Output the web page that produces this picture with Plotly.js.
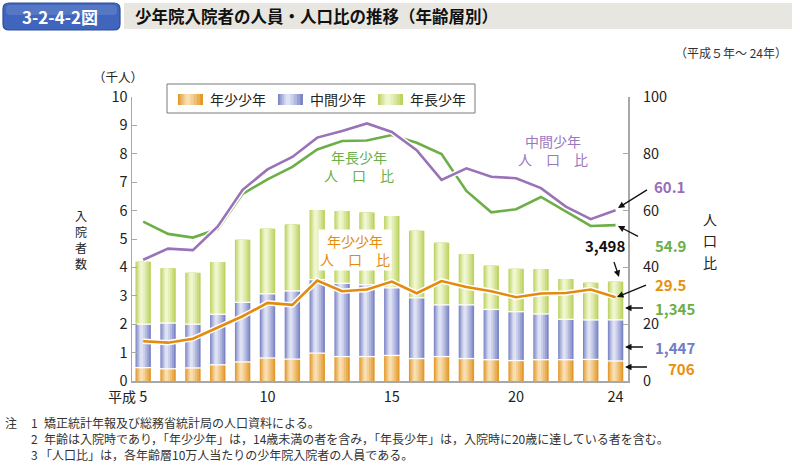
<!DOCTYPE html>
<html>
<head>
<meta charset="utf-8">
<script src="https://cdn.plot.ly/plotly-3.0.1.min.js"></script>
<style>
html,body{margin:0;padding:0;background:#fff;}
#chart{width:792px;height:463px;}
</style>
</head>
<body>
<div id="chart"></div>
<script>
// ---- data ----
const years = [5,6,7,8,9,10,11,12,13,14,15,16,17,18,19,20,21,22,23,24];
const youngCount  = [0.47,0.43,0.46,0.57,0.67,0.81,0.77,0.98,0.86,0.86,0.90,0.79,0.86,0.79,0.75,0.72,0.75,0.75,0.76,0.706];
const middleCount = [1.53,1.61,1.54,1.78,2.10,2.26,2.40,2.59,2.58,2.53,2.38,2.14,1.82,1.89,1.77,1.72,1.61,1.42,1.39,1.447];
const olderCount  = [2.20,1.93,1.81,1.84,2.20,2.29,2.34,2.45,2.55,2.54,2.53,2.36,2.19,1.79,1.54,1.51,1.58,1.42,1.31,1.345];
const youngRatio  = [14.0,13.5,14.9,18.9,22.8,27.5,26.8,35.4,31.6,32.2,35.0,30.9,35.2,33.1,31.6,29.5,30.8,31.0,32.2,29.5];
const middleRatio = [42.7,46.6,46.1,54.4,67.3,74.5,78.9,85.7,88.0,90.7,87.7,81.3,70.8,74.9,71.9,71.4,67.9,61.4,57.0,60.1];
const olderRatio  = [56.1,51.8,50.5,53.5,65.9,71.0,75.4,81.5,84.5,84.7,86.6,83.9,79.9,66.9,59.4,60.5,64.8,59.8,54.6,54.9];
const seriesNames = ['年少少年','中間少年','年長少年'];
const xTickVals = [5,10,15,20,24];
const xTickText = ['5','10','15','20','24'];
const totalLabel = '3,498';
const notes = [
  '矯正統計年報及び総務省統計局の人口資料による。',
  '年齢は入院時であり，「年少少年」は，14歳未満の者を含み，「年長少年」は，入院時に20歳に達している者を含む。',
  '「人口比」は，各年齢層10万人当たりの少年院入院者の人員である。'
];

// ---- layout helpers (pixel -> paper) ----
const PL=132, PR=628, PT=97, PB=381;
const px = x => (x-PL)/(PR-PL);
const py = y => (PB-y)/(PB-PT);
const FONT = '"Noto Sans CJK JP", "Noto Sans", sans-serif';

const L_Y='#E38B0E', L_M='#9A72B8', L_O='#6CAF47';
// bar gradient palettes: [edge, light]
const PAL = [
  ['#E3982A','#F9E2B8'],
  ['#7C86C6','#E4E7F6'],
  ['#BCD362','#F3F8D6'],
];

function hex(c){return [1,3,5].map(i=>parseInt(c.substr(i,2),16));}
function mix(a,b,t){const A=hex(a),B=hex(b);return 'rgb('+A.map((v,i)=>Math.round(v+(B[i]-v)*t)).join(',')+')';}

// stacked bases computed from the series
const baseMiddle = youngCount.map(v=>v);
const baseOlder = youngCount.map((v,i)=>v+middleCount[i]);
const segs = [[youngCount, years.map(()=>0)], [middleCount, baseMiddle], [olderCount, baseOlder]];

// gradient layers: [left offset, right offset, mix]
const layers = [[-0.31,0.31,0],[-0.27,0.24,0.28],[-0.22,0.16,0.52],[-0.17,0.08,0.75],[-0.12,0.0,0.95]];

const traces = [];
segs.forEach(([vals,base],k)=>{
  layers.forEach(([a,b,t])=>{
    traces.push({type:'bar', x:years, y:vals, base:base, offset:a, width:b-a,
      marker:{color:mix(PAL[k][0],PAL[k][1],t), line:{width:0}}, showlegend:false, hoverinfo:'skip'});
  });
});
// white separators between stacked segments
traces.push({type:'scatter', mode:'markers', x:years.concat(years), y:baseMiddle.concat(baseOlder),
  marker:{symbol:'line-ew', size:15.5, line:{color:'#ffffff', width:1.3}}, showlegend:false, hoverinfo:'skip', cliponaxis:false});

[[olderRatio,L_O],[middleRatio,L_M],[youngRatio,L_Y]].forEach(([arr,col])=>{
  traces.push({type:'scatter', mode:'lines', x:years, y:arr, yaxis:'y2', line:{color:'#ffffff', width:5.5}, showlegend:false, hoverinfo:'skip'});
  traces.push({type:'scatter', mode:'lines', x:years, y:arr, yaxis:'y2', line:{color:col, width:2.6}, showlegend:false, hoverinfo:'skip'});
});

function rrect(x0,y0,x1,y1,r){
  const X=v=>px(v), Y=v=>py(v);
  return `M ${X(x0+r)},${Y(y0)} L ${X(x1-r)},${Y(y0)} Q ${X(x1)},${Y(y0)} ${X(x1)},${Y(y0+r)} L ${X(x1)},${Y(y1-r)} Q ${X(x1)},${Y(y1)} ${X(x1-r)},${Y(y1)} L ${X(x0+r)},${Y(y1)} Q ${X(x0)},${Y(y1)} ${X(x0)},${Y(y1-r)} L ${X(x0)},${Y(y0+r)} Q ${X(x0)},${Y(y0)} ${X(x0+r)},${Y(y0)} Z`;
}
const prect = (x0,y0,x1,y1,fill,line,lw)=>({type:'rect', xref:'paper', yref:'paper', x0:px(x0), x1:px(x1), y0:py(y1), y1:py(y0), fillcolor:fill, line:{color:line||fill, width:lw||0}, layer:'above'});

const shapes = [
  prect(124,3,792,29,'#E8E6E0'),
  {type:'path', xref:'paper', yref:'paper', path:rrect(3,3,120,30,6), fillcolor:'#3F66BC', line:{color:'#2C4D9A', width:1.2}, layer:'above'},
  {type:'path', xref:'paper', yref:'paper', path:rrect(6,5,117,15,4), fillcolor:'rgba(255,255,255,0.12)', line:{width:0}, layer:'above'},
  prect(167,84,475,113,'#ffffff','#7a7a7a',1),
];
// legend swatches with the same banded look
[[178,203],[278,303],[378,403]].forEach(([x0,x1],k)=>{
  const c=(x0+x1)/2, hw=(x1-x0)/2;
  layers.forEach(([a,b,t])=>{
    shapes.push(prect(c+a/0.31*hw, 94, c+b/0.31*hw, 105, mix(PAL[k][0],PAL[k][1],t)));
  });
});

const ann = (x,y,text,opt)=>Object.assign({xref:'paper', yref:'paper', x:px(x), y:py(y), xanchor:'center', yanchor:'middle', text:text, showarrow:false, font:{family:FONT, size:14, color:'#222'}}, opt||{});
const arrow = (hx,hy,tx,ty)=>({xref:'paper', yref:'paper', x:px(hx), y:py(hy), ax:tx-hx, ay:ty-hy, text:' ', showarrow:true, arrowhead:2, arrowsize:1, arrowwidth:1.3, arrowcolor:'#111', standoff:0, startstandoff:0});
const NOTE = {family:FONT, size:12, color:'#333'};
const VL = {family:FONT, size:12, color:'#222'};

const annotations = [
  ann(60,16,'<b>3-2-4-2図</b>',{font:{family:FONT,size:17,color:'#ffffff'}}),
  ann(133,16,'<b>少年院入院者の人員・人口比の推移（年齢層別）</b>',{xanchor:'left',font:{family:FONT,size:16.5,color:'#111'}}),
  ann(789,52,'（平成５年～ 24年）',{xanchor:'right',font:{family:FONT,size:12,color:'#333'}}),
  // legend texts
  ann(208,99,seriesNames[0],{xanchor:'left'}),
  ann(308,99,seriesNames[1],{xanchor:'left'}),
  ann(408,99,seriesNames[2],{xanchor:'left'}),
  // axis titles
  ann(118,76,'（千人）',{font:{family:FONT,size:12.5,color:'#222'}}),
  ann(81,215,'入',{font:VL}), ann(81,231,'院',{font:VL}), ann(81,247,'者',{font:VL}), ann(81,263,'数',{font:VL}),
  ann(710,219,'人'), ann(710,240,'口'), ann(710,262,'比'),
  ann(138,396,'平成',{xanchor:'right'}),
  // series labels
  ann(553,150,'中間少年<br>人　口　比',{font:{family:FONT,size:14,color:'#9B78BE'}}),
  ann(359,166,'年長少年<br>人　口　比',{font:{family:FONT,size:14,color:L_O}}),
  ann(355,250,'年少少年<br>人　口　比',{font:{family:FONT,size:14,color:L_Y}, bgcolor:'#ffffff', width:70, height:38}),
  // end values
  ann(652,186,'<b>'+middleRatio[19].toFixed(1)+'</b>',{xanchor:'left',font:{family:FONT,size:15,color:'#9A6DB8'}}),
  ann(653,245,'<b>'+olderRatio[19].toFixed(1)+'</b>',{xanchor:'left',font:{family:FONT,size:15,color:L_O}}),
  ann(605,245,'<b>'+totalLabel+'</b>',{font:{family:FONT,size:15,color:'#111'}}),
  ann(653,284,'<b>'+youngRatio[19].toFixed(1)+'</b>',{xanchor:'left',font:{family:FONT,size:15,color:'#E8900E'}}),
  ann(653,308,'<b>'+Math.round(olderCount[19]*1000).toLocaleString('en-US')+'</b>',{xanchor:'left',font:{family:FONT,size:15,color:L_O}}),
  ann(653,347,'<b>'+Math.round(middleCount[19]*1000).toLocaleString('en-US')+'</b>',{xanchor:'left',font:{family:FONT,size:15,color:'#6F80C8'}}),
  ann(666,368,'<b>'+Math.round(youngCount[19]*1000)+'</b>',{xanchor:'left',font:{family:FONT,size:15,color:'#E8900E'}}),
  arrow(618,208,650,188),
  arrow(618,226,641,238),
  arrow(619,277,611,253),
  arrow(617,297,649,284),
  arrow(625,308,646,308),
  arrow(625,347,646,347),
  arrow(625,367,650,367),
  // notes
  ann(3,422.5,'注',{xanchor:'left',font:NOTE}),
];
const noteY = [422.5,438.5,454.5];
notes.forEach((t,i)=>{
  annotations.push(ann(29,noteY[i],String(i+1),{xanchor:'left',font:NOTE}));
  annotations.push(ann(i===2?38:42,noteY[i],t,{xanchor:'left',font:NOTE}));
});

const layout = {
  width:792, height:463,
  margin:{l:PL, r:792-PR, t:PT, b:463-PB, pad:0},
  paper_bgcolor:'#ffffff', plot_bgcolor:'#ffffff',
  barmode:'overlay',
  showlegend:false,
  font:{family:FONT, size:14, color:'#222'},
  xaxis:{range:[4.55,24.5], tickmode:'array', tickvals:xTickVals, ticktext:xTickText, ticks:'', showline:true, linecolor:'#a8a8a8', linewidth:1.5, showgrid:false, zeroline:false, tickfont:{size:14.5}, ticklabelstandoff:2, fixedrange:true},
  yaxis:{range:[0,10], dtick:1, ticks:'inside', ticklen:5, tickcolor:'#a8a8a8', showline:true, linecolor:'#a8a8a8', linewidth:1.5, showgrid:false, zeroline:false, tickfont:{size:14.5}, fixedrange:true},
  yaxis2:{range:[0,100], dtick:20, overlaying:'y', side:'right', ticks:'inside', ticklen:5, tickcolor:'#a8a8a8', showline:true, linecolor:'#a8a8a8', linewidth:2, showgrid:false, zeroline:false, tickfont:{size:14.5}, ticklabelstandoff:10, fixedrange:true},
  shapes:shapes,
  annotations:annotations,
};
Plotly.newPlot('chart', traces, layout, {displayModeBar:false, staticPlot:true});
</script>
</body>
</html>
